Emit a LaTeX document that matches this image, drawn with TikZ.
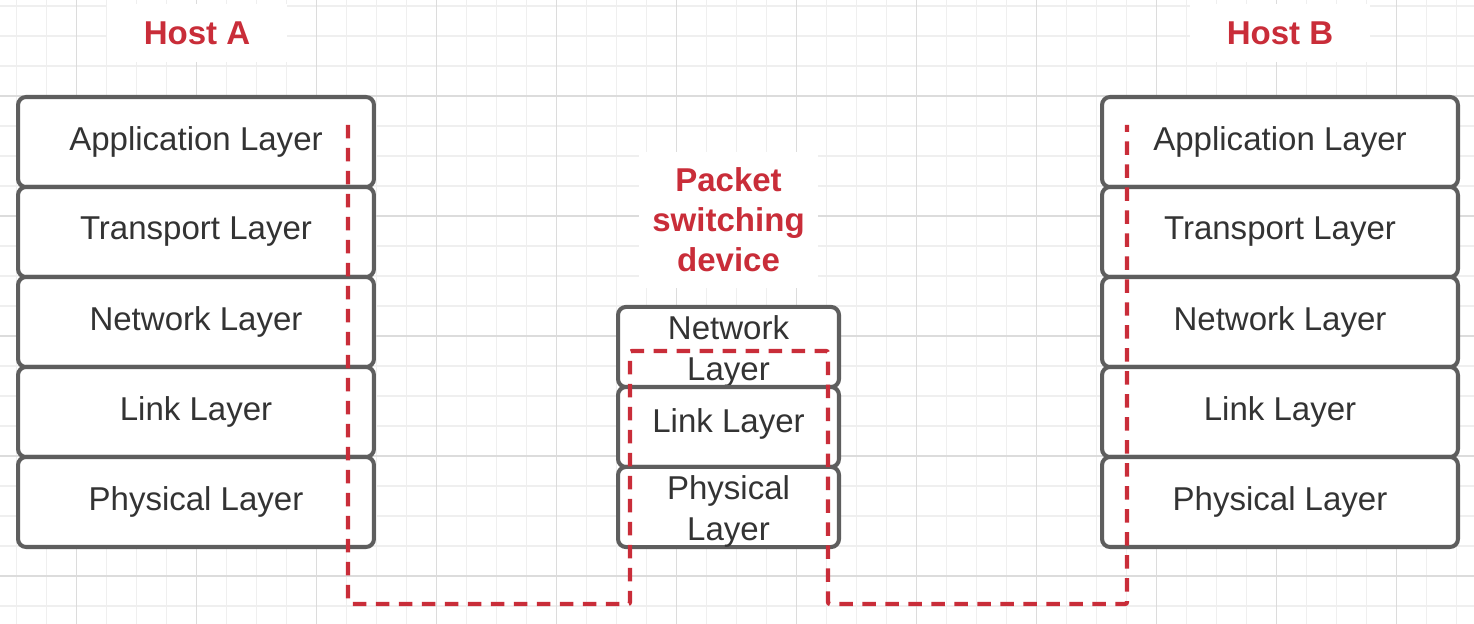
\documentclass[tikz,border=0pt]{standalone}
\usepackage{fontspec}
\setmainfont{Liberation Sans}
\usepackage{tikz}
\usetikzlibrary{positioning,calc}
\usepackage{xcolor}
\definecolor{boxgray}{HTML}{5E5E5E}
\definecolor{textgray}{HTML}{333333}
\definecolor{hostred}{HTML}{C92D39}
\definecolor{gridminor}{HTML}{EFEFEF}
\definecolor{gridmajor}{HTML}{DCDCDC}
\newcommand{\stacktwo}[2]{\raisebox{-0.1cm}[\height][\depth]{\begin{tabular}{@{}c@{}}#1\\#2\end{tabular}}}

\begin{document}
\begin{tikzpicture}[
  x=0.02cm, y=-0.02cm,
  layer/.style={draw=boxgray, fill=white, rounded corners=1.6mm, line width=2.3pt, text=textgray, font=\fontsize{18.8}{22.8}\selectfont, minimum width=7.12cm, minimum height=1.8cm, inner sep=0pt, align=center},
  swlayer/.style={layer, minimum width=4.42cm, minimum height=1.6cm},
  hostlabel/.style={fill=white, text=hostred, font=\fontsize{18.8}{22.8}\selectfont\bfseries, inner sep=0pt, align=center},
  route/.style={draw=hostred, line width=2.4pt, dash pattern=on 0.27cm off 0.19cm, rounded corners=0.4mm}
]
  \useasboundingbox (0,0) rectangle (1474,624);
  \fill[white] (0,0) rectangle (1474,624);

  \foreach \gx in {16.7,46.7,...,1474} \draw[gridminor, line width=0.6pt] (\gx,0) -- (\gx,624);
  \foreach \gy in {6,36,...,624} \draw[gridminor, line width=0.6pt] (0,\gy) -- (1474,\gy);
  \foreach \gx in {76.7,196.7,...,1474} \draw[gridmajor, line width=0.6pt] (\gx,0) -- (\gx,624);
  \foreach \gy in {96,216,...,624} \draw[gridmajor, line width=0.6pt] (0,\gy) -- (1474,\gy);

  \node[hostlabel, minimum width=3.6cm, minimum height=1.16cm] (hostA) at (197,33) {Host A};
  \node[hostlabel, minimum width=3.6cm, minimum height=1.16cm] (hostB) at (1280,33) {Host B};
  \node[hostlabel, minimum width=3.58cm, minimum height=2.72cm] (switch) at (728.5,220) {Packet\\switching\\device};

  \node[layer] (appA) at (196,142) {Application Layer};
  \node[layer] (transA) at (196,232) {Transport Layer};
  \node[layer] (netA) at (196,322) {Network Layer};
  \node[layer] (linkA) at (196,412) {Link Layer};
  \node[layer] (physA) at (196,502) {Physical Layer};

  \node[layer] (appB) at (1280,142) {Application Layer};
  \node[layer] (transB) at (1280,232) {Transport Layer};
  \node[layer] (netB) at (1280,322) {Network Layer};
  \node[layer] (linkB) at (1280,412) {Link Layer};
  \node[layer] (physB) at (1280,502) {Physical Layer};

  \node[swlayer] (netS) at (728.5,347) {\stacktwo{Network}{Layer}};
  \node[swlayer] (linkS) at (728.5,427) {\raisebox{0.06cm}[\height][\depth]{Link Layer}};
  \node[swlayer] (physS) at (728.5,507) {\stacktwo{Physical}{Layer}};

  \coordinate (tapA) at (348,125);
  \coordinate (tapB) at (1127,125);
  \coordinate (dipL) at (630,604);
  \coordinate (swTL) at (630,351);
  \coordinate (swTR) at (828,351);
  \coordinate (dipR) at (828,604);

  \draw[route] (tapA) -- (tapA |- dipL) -- (dipL) -- (swTL) -- (swTR) -- (dipR) -- (tapB |- dipR) -- (tapB);
\end{tikzpicture}
\end{document}
